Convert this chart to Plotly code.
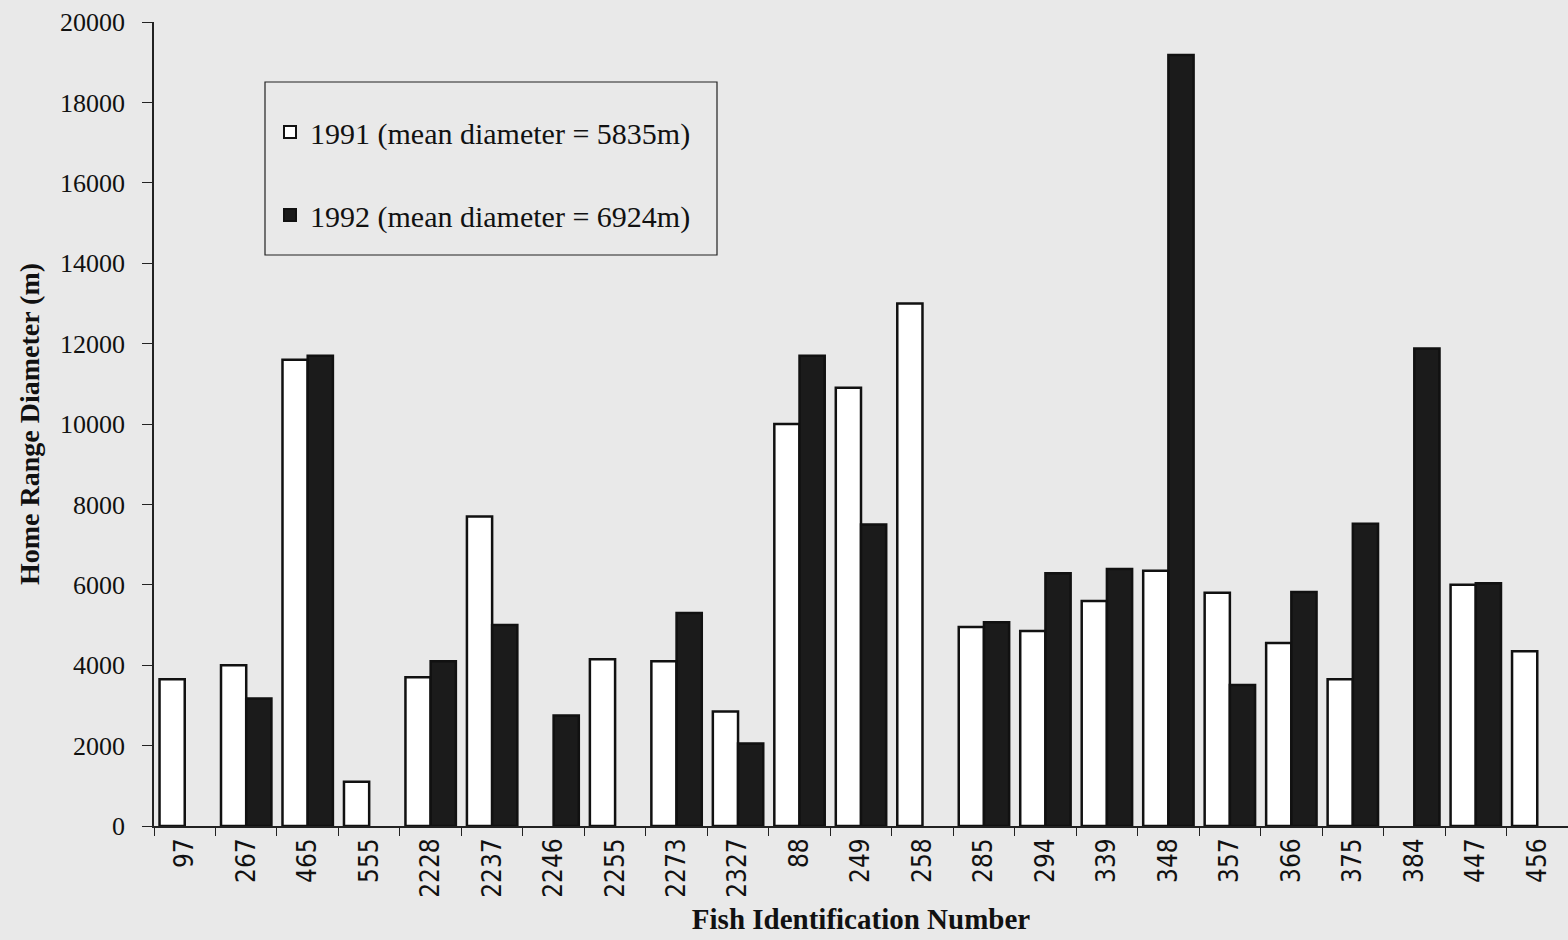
import plotly.graph_objects as go

fish_ids = ["97", "267", "465", "555", "2228", "2237", "2246", "2255", "2273", "2327",
            "88", "249", "258", "285", "294", "339", "348", "357", "366", "375",
            "384", "447", "456"]
diam_1991 = [3650, 4000, 11600, 1100, 3700, 7700, None, 4150, 4100, 2850,
             10000, 10900, 13000, 4950, 4850, 5600, 6350, 5800, 4550, 3650,
             None, 6000, 4350]
diam_1992 = [None, 3170, 11700, None, 4100, 5000, 2750, None, 5300, 2050,
             11700, 7500, None, 5070, 6290, 6390, 19180, 3510, 5820, 7520,
             11880, 6040, None]
legend_1991 = "1991 (mean diameter = 5835m)"
legend_1992 = "1992 (mean diameter = 6924m)"
y_ticks = [0, 2000, 4000, 6000, 8000, 10000, 12000, 14000, 16000, 18000, 20000]

BG = "#e9e9e9"
SERIF = "Liberation Serif, Times New Roman, serif"
NARROW = "Liberation Sans Narrow, DejaVu Sans Condensed, sans-serif"

W, H = 1568, 940
L, R, T, B = 154, 0, 22, 114
pw, ph = W - L - R, H - T - B

fig = go.Figure()
fig.add_trace(go.Bar(
    x=fish_ids, y=diam_1991, name=legend_1991, legendgroup="a",
    marker=dict(color="#ffffff", line=dict(color="#111111", width=2.5)),
))
fig.add_trace(go.Bar(
    x=fish_ids, y=diam_1992, name=legend_1992, legendgroup="b",
    marker=dict(color="#1b1b1b", line=dict(color="#111111", width=2.5)),
))

def px2x(px):
    return (px - L) / pw

def py2y(py):
    return 1 - (py - T) / ph

fig.add_shape(type="rect", xref="paper", yref="paper",
              x0=px2x(265), x1=px2x(717), y0=py2y(255), y1=py2y(82),
              line=dict(color="#222222", width=1.2), fillcolor="rgba(0,0,0,0)")

fig.update_layout(
    width=W, height=H,
    margin=dict(l=L, r=R, t=T, b=B),
    paper_bgcolor=BG, plot_bgcolor=BG,
    barmode="group", bargap=0.18, bargroupgap=0.0,
    showlegend=True,
    legend=dict(
        x=px2x(270), y=py2y(106), xanchor="left", yanchor="top",
        bgcolor="rgba(0,0,0,0)", borderwidth=0,
        font=dict(family=SERIF, size=30, color="#111111"),
        traceorder="grouped", tracegroupgap=41,
        itemsizing="constant",
    ),
    xaxis=dict(
        type="category",
        showline=True, linecolor="#222222", linewidth=1.8,
        ticks="outside", ticklen=8, tickwidth=1.2, tickcolor="#222222",
        tickson="boundaries",
        tickangle=-90,
        tickfont=dict(family=NARROW, size=26, color="#111111"),
        title=dict(text="<b>Fish Identification Number</b>",
                   font=dict(family=SERIF, size=29, color="#111111"), standoff=12),
        showgrid=False, zeroline=False,
        range=[-0.5, 22.5],
    ),
    yaxis=dict(
        range=[0, 20000],
        tickvals=y_ticks, ticktext=[str(v) for v in y_ticks],
        showline=True, linecolor="#222222", linewidth=1.8,
        ticks="outside", ticklen=10, tickwidth=1.2, tickcolor="#222222",
        ticklabelstandoff=12,
        tickfont=dict(family=SERIF, size=26, color="#111111"),
        title=dict(text="<b>Home Range Diameter (m)</b>",
                   font=dict(family=SERIF, size=28, color="#111111"), standoff=12),
        showgrid=False, zeroline=False,
    ),
)

fig.write_html(
    "out.html",
    config={"displayModeBar": False},
    post_script="document.body.style.margin='0';document.body.style.background='%s';" % BG,
)
